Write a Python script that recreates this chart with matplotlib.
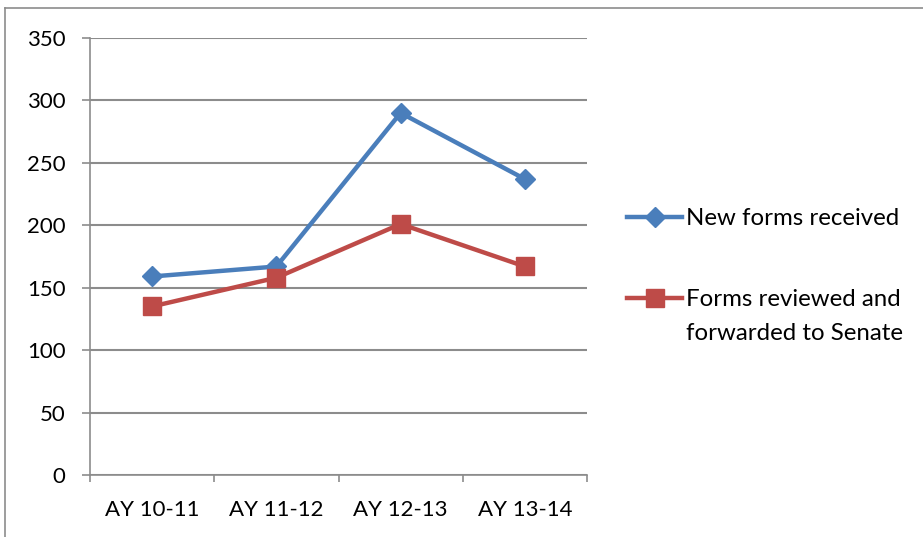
import matplotlib

matplotlib.use("Agg")
import matplotlib.pyplot as plt
from matplotlib.lines import Line2D
import numpy as np

years = ["AY 10-11", "AY 11-12", "AY 12-13", "AY 13-14"]
new_forms = [159, 167, 290, 237]
forwarded = [135, 158, 201, 167]
y_ticks = [0, 50, 100, 150, 200, 250, 300, 350]

BLUE = "#4A7EBB"
RED = "#BE4B48"
GRID = "#8C8C8C"

plt.rcParams["font.family"] = ["Lato", "DejaVu Sans"]

fig = plt.figure(figsize=(9.23, 5.37), dpi=100)
ax = fig.add_axes([90 / 923, 1 - 475 / 537, 497 / 923, 437 / 537])

x = np.arange(len(years))
ax.plot(x, new_forms, color=BLUE, lw=3.2, marker="D", ms=10, label="New forms received", zorder=3)
ax.plot(x, forwarded, color=RED, lw=3.2, marker="s", ms=13, label="Forms reviewed and", zorder=3)

ax.set_xlim(-0.5, len(years) - 0.5)
ax.set_ylim(0, 350)
ax.set_yticks(y_ticks)
ax.set_xticks(x)
ax.set_xticklabels(years)
ax.set_xticks(np.arange(len(years) + 1) - 0.5, minor=True)
ax.grid(axis="y", color=GRID, lw=1.5, zorder=0)

for side in ["top", "right"]:
    ax.spines[side].set_visible(False)
for side in ["left", "bottom"]:
    ax.spines[side].set_color(GRID)
    ax.spines[side].set_linewidth(1.2)

ax.tick_params(axis="y", length=5.5, width=1.2, color=GRID, pad=12, labelsize=16)
ax.tick_params(axis="x", which="major", length=0, pad=18, labelsize=16)
ax.tick_params(axis="x", which="minor", length=5, width=1.2, color=GRID)

leg = ax.legend(loc="upper left", bbox_to_anchor=(627 / 923, 1 - 208 / 537),
                bbox_transform=fig.transFigure, frameon=False, fontsize=17.3,
                handlelength=2.3, handletextpad=0.15, labelspacing=2.5,
                borderpad=0, borderaxespad=0)
ax.annotate("forwarded to Senate", xy=(0, 0), xycoords=leg.get_texts()[1],
            xytext=(0, -9), textcoords="offset points", va="top", ha="left",
            fontsize=17.3, zorder=10)

# chart frame (top and left edges)
fig.add_artist(Line2D([5 / 923, 1], [1 - 8 / 537, 1 - 8 / 537], color="#8C8C8C", lw=1.2,
                      transform=fig.transFigure))
fig.add_artist(Line2D([5 / 923, 5 / 923], [0, 1 - 8 / 537], color="#8C8C8C", lw=1.2,
                      transform=fig.transFigure))

fig.savefig("out.png", dpi=100)
